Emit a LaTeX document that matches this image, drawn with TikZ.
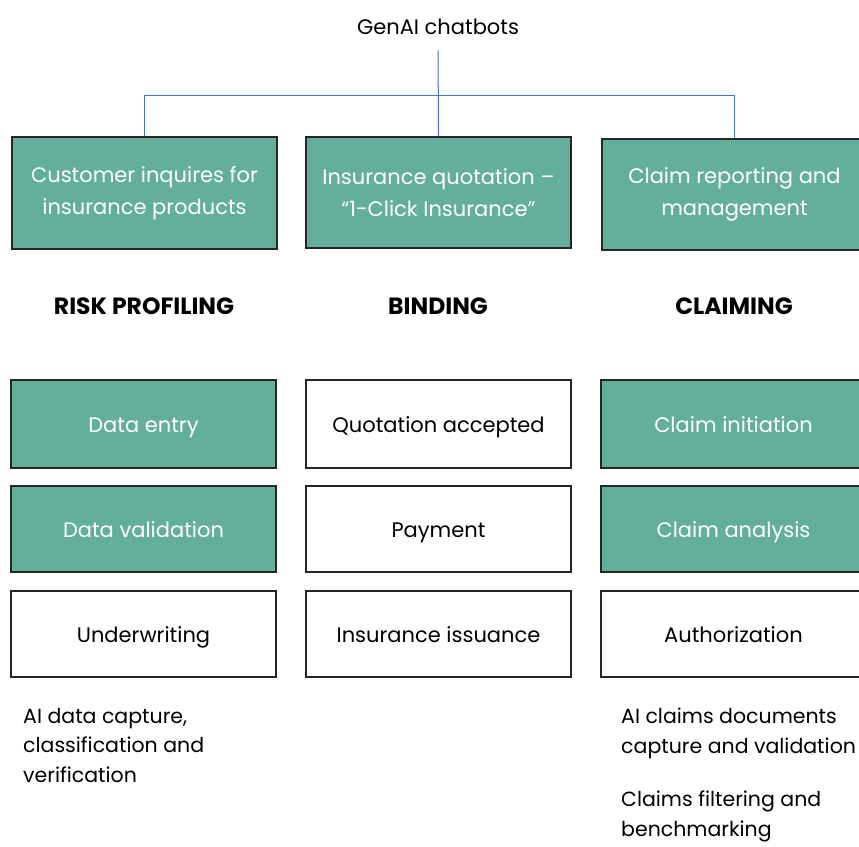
\documentclass[tikz,border=0pt]{standalone}
\usepackage{fontspec}
\setmainfont{Poppins}
\definecolor{teal1}{HTML}{63AF9C}
\definecolor{linkblue}{HTML}{4472C4}
\begin{document}
\begin{tikzpicture}[x=1pt,y=-1pt,
  font=\fontsize{21}{32}\selectfont,
  box/.style={draw=black!85, line width=1.4pt, minimum width=265pt, inner sep=0pt, align=center},
  fillbox/.style={box, fill=teal1, text=white},
  plainbox/.style={box, fill=white, text=black},
  oneline/.style={text height=16.5pt, text depth=0pt},
  link/.style={draw=linkblue, line width=1pt},
  head/.style={font=\fontsize{23.5}{28}\selectfont\bfseries},
  note/.style={anchor=north west, align=left, inner sep=0pt, font=\fontsize{20.5}{29.5}\selectfont}]
\useasboundingbox (0,0) rectangle (859,846);
\clip (0,0) rectangle (859,846);

% title
\node (title) at (438,27) {GenAI chatbots};
\coordinate (hub) at (438.5,95.5);

% top row
\node[fillbox, minimum height=112pt] (c) at (144.5,193) {Customer inquires for\\insurance products};
\node[fillbox, minimum height=111pt] (q) at (438.5,192.5) {Insurance quotation –\\“1-Click Insurance”};
\node[fillbox, minimum height=111pt] (r) at (734.5,194.5) {Claim reporting and\\management};

% connectors
\draw[link, shorten <=12pt] (title.south) -- (q.north);
\draw[link] (c.north) |- (hub) -| (r.north);

% headings
\node[head] (h1) at (144,306) {RISK PROFILING};
\node[head] (h2) at (438,306) {BINDING};
\node[head] (h3) at (734,306) {CLAIMING};

% risk profiling column
\node[fillbox, oneline, minimum height=88pt] (a1) at (143.5,424) {Data entry};
\node[fillbox, oneline, minimum height=86pt] (a2) at (143.5,529) {Data validation};
\node[plainbox, oneline, minimum height=86pt] (a3) at (143.5,634) {Underwriting};

% binding column
\node[plainbox, oneline, minimum height=88pt] (b1) at (438.5,424) {Quotation accepted};
\node[plainbox, oneline, minimum height=86pt] (b2) at (438.5,529) {Payment};
\node[plainbox, oneline, minimum height=86pt] (b3) at (438.5,634) {Insurance issuance};

% claiming column
\node[fillbox, oneline, minimum height=88pt] (d1) at (733.5,424) {Claim initiation};
\node[fillbox, oneline, minimum height=86pt] (d2) at (733.5,529) {Claim analysis};
\node[plainbox, oneline, minimum height=86pt] (d3) at (733.5,634) {Authorization};

% notes
\node[note] (n1) at (23,708) {AI data capture,\\classification and\\verification};
\node[note] (n2) at (621,708) {AI claims documents\\capture and validation\\[24pt]Claims filtering and\\benchmarking};
\end{tikzpicture}
\end{document}
